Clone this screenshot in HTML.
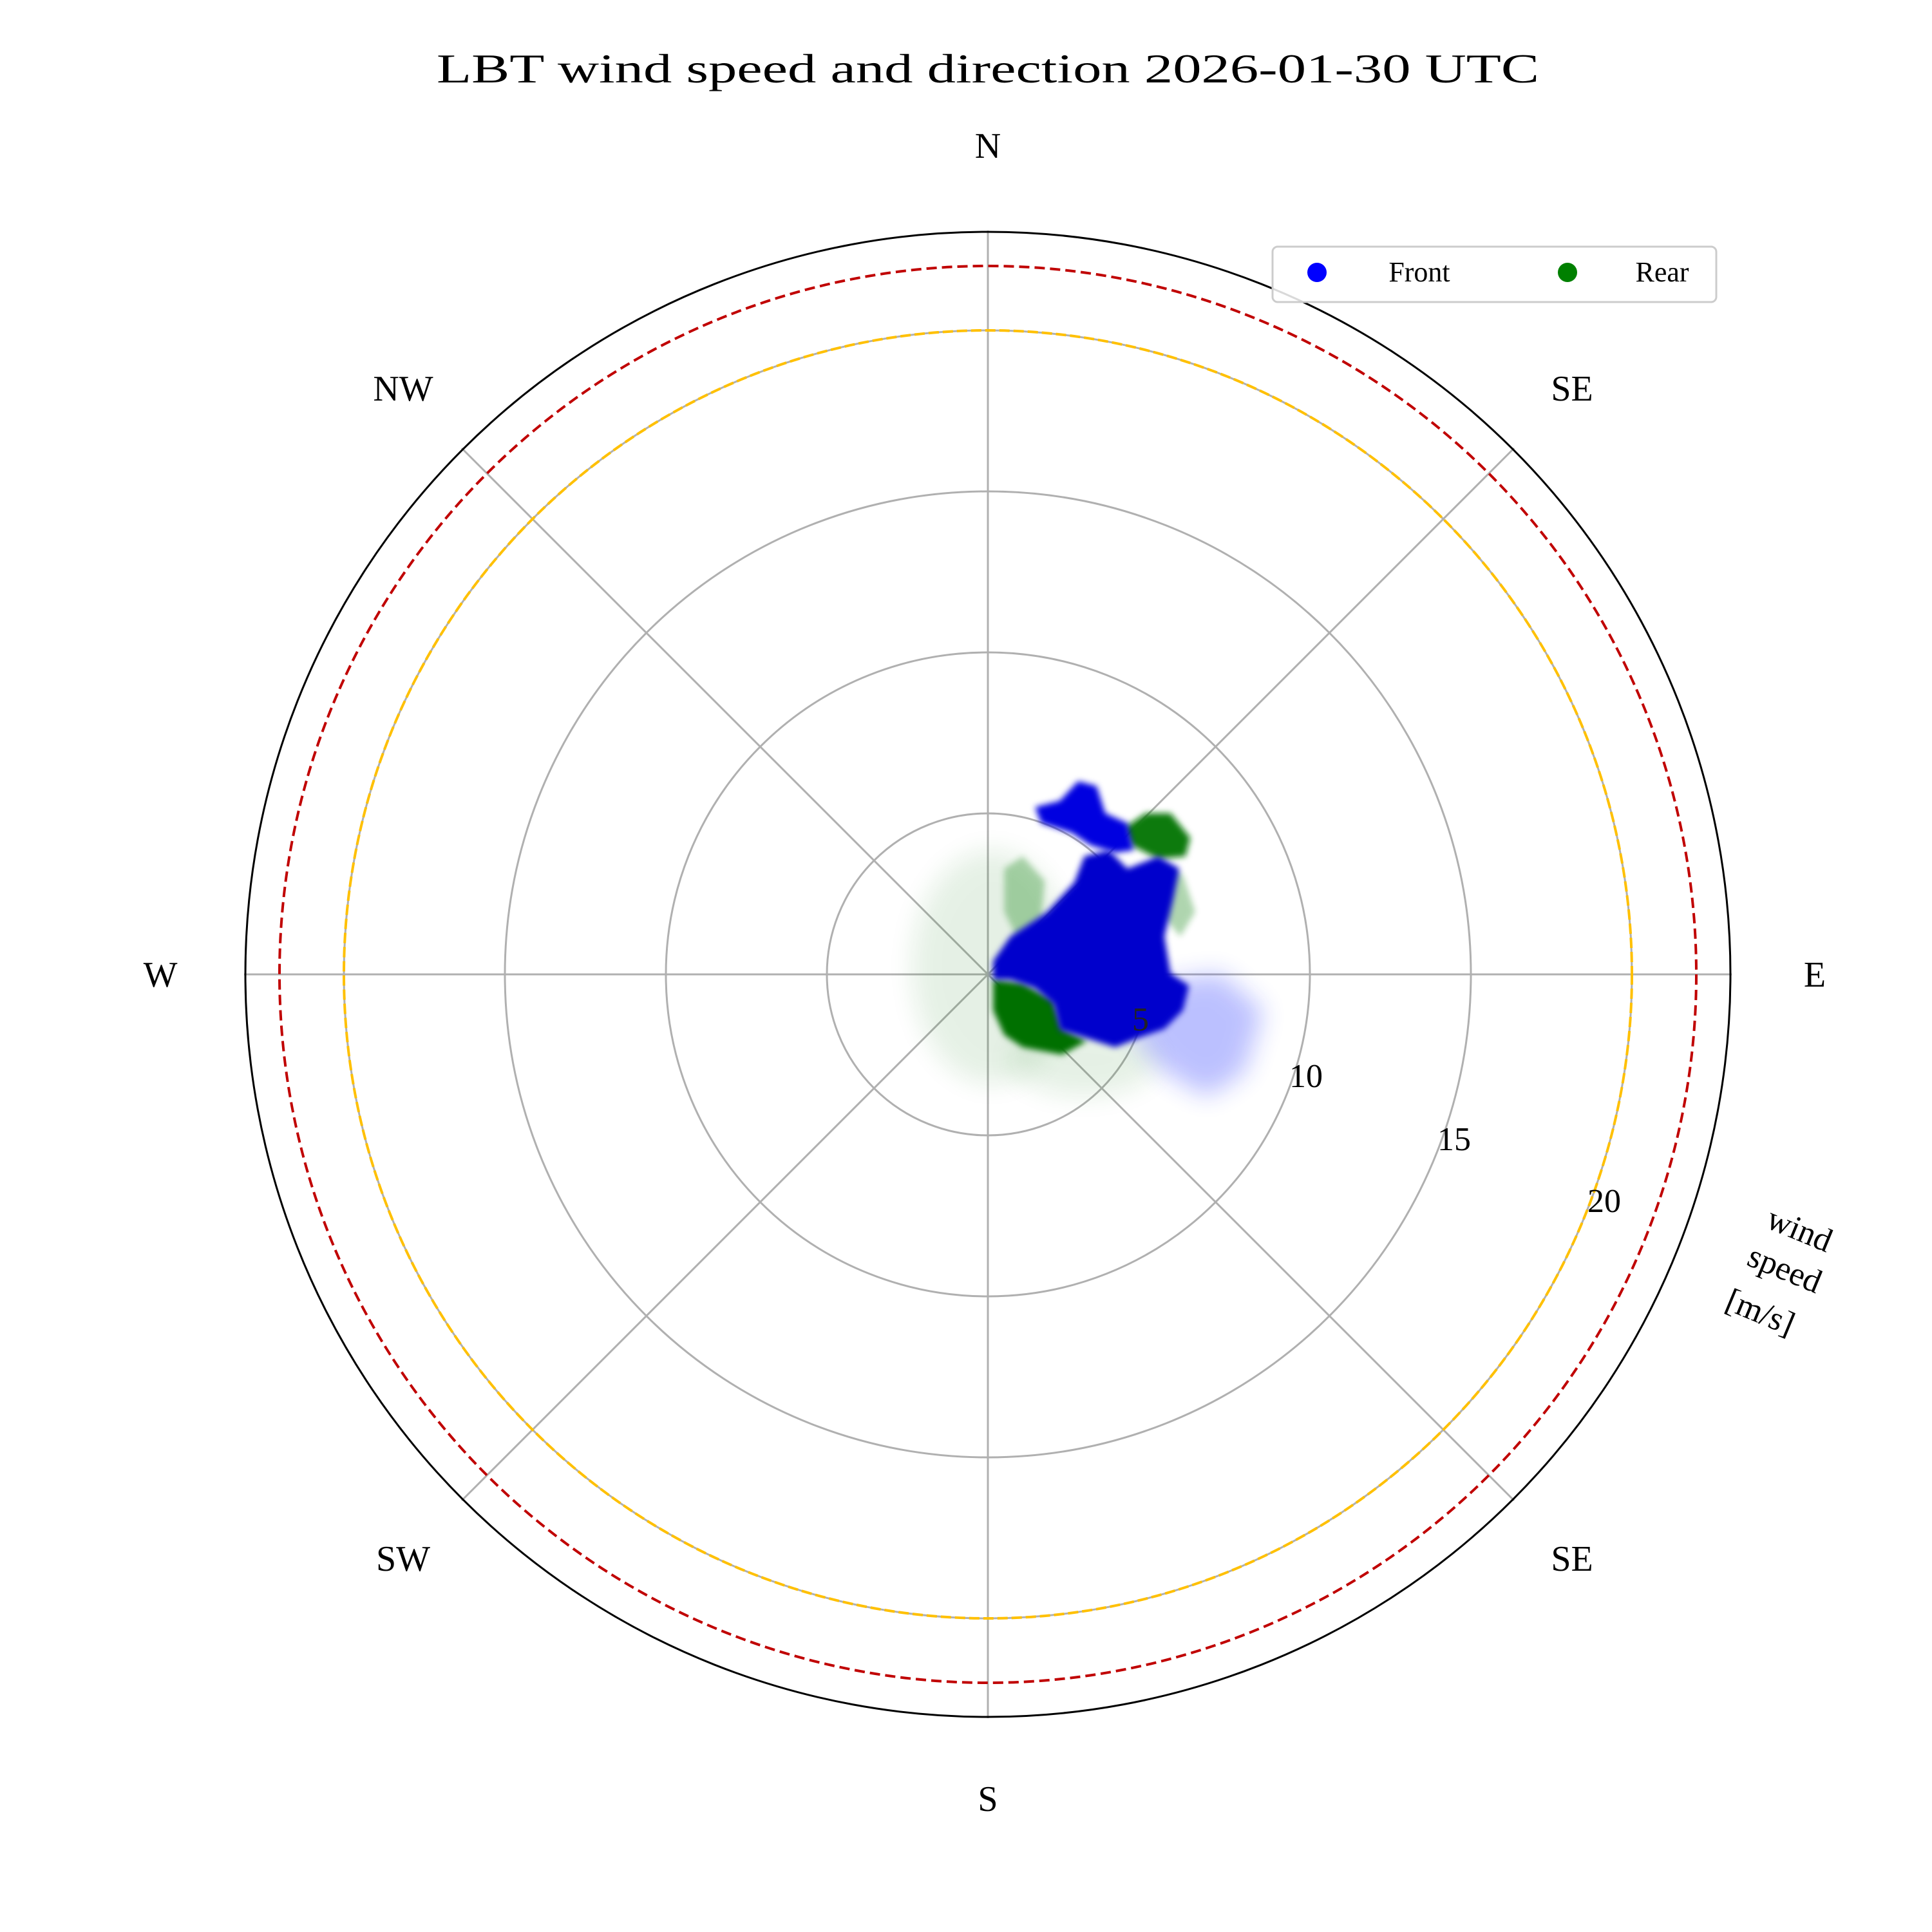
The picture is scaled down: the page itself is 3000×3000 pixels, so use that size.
<!DOCTYPE html>
<html><head><meta charset="utf-8"><style>html,body{margin:0;padding:0;background:#fff}svg{display:block}</style></head>
<body>
<svg width="3000" height="3000" viewBox="0 0 3000 3000" xmlns="http://www.w3.org/2000/svg" font-family="Liberation Serif, DejaVu Serif, serif">
<defs>
<filter id="b1" x="-20%" y="-20%" width="140%" height="140%"><feGaussianBlur stdDeviation="2.5"/></filter>
<filter id="b2" x="-50%" y="-50%" width="200%" height="200%"><feGaussianBlur stdDeviation="10"/></filter>
</defs>
<rect width="3000" height="3000" fill="#fff"/>
<text x="1534" y="128" font-size="64" text-anchor="middle" textLength="1712" lengthAdjust="spacingAndGlyphs">LBT wind speed and direction 2026-01-30 UTC</text>
<g fill="none" stroke="#b0b0b0" stroke-width="3">
<circle cx="1534" cy="1513" r="250"/><circle cx="1534" cy="1513" r="500"/><circle cx="1534" cy="1513" r="750"/><circle cx="1534" cy="1513" r="1000"/>
<line x1="1534" y1="358" x2="1534" y2="2668"/><line x1="379" y1="1513" x2="2689" y2="1513"/>
<line x1="717" y1="696" x2="2351" y2="2330"/><line x1="717" y1="2330" x2="2351" y2="696"/>
</g>
<g transform="scale(1.9133)">
<ellipse cx="805" cy="785" rx="65" ry="95" fill="#0a7a0a" opacity="0.10" filter="url(#b2)"/>
<ellipse cx="880" cy="860" rx="60" ry="30" fill="#0a7a0a" opacity="0.10" filter="url(#b2)"/>
<polygon points="930,800 990,790 1025,820 1010,870 980,890 945,870 920,840" fill="#2030ff" opacity="0.3" filter="url(#b2)"/>
<polygon points="935,700 960,710 970,740 958,760 945,745" fill="#1a8a1a" opacity="0.35" filter="url(#b1)"/>
<polygon points="815,705 830,695 848,715 845,745 825,760 815,740" fill="#1a8a1a" opacity="0.35" filter="url(#b1)"/>
<polygon points="806,795 830,798 855,812 862,835 882,845 862,856 830,850 815,840 806,820" fill="#007000" filter="url(#b1)"/>
<polygon points="912,672 930,660 950,660 966,680 962,695 940,697 918,686" fill="#107a10" filter="url(#b1)"/>
<polygon points="806,780 820,760 850,740 872,716 880,695 900,690 915,705 940,695 957,705 952,730 945,760 950,790 965,800 960,820 945,835 925,842 905,850 880,842 860,836 855,815 840,802 820,795 806,795" fill="#0000cc" filter="url(#b1)"/>
<polygon points="840,655 860,650 875,634 890,638 897,660 915,668 920,690 905,692 885,686 870,676 845,668" fill="#0000e0" filter="url(#b1)"/>
</g>
<circle cx="1534" cy="1513" r="1000" fill="none" stroke="#ffc000" stroke-width="4" stroke-dasharray="16,6"/>
<circle cx="1534" cy="1513" r="1100" fill="none" stroke="#c00000" stroke-width="4" stroke-dasharray="16,8"/>
<circle cx="1534" cy="1513" r="1153" fill="none" stroke="#000" stroke-width="3"/>
<g font-size="56" text-anchor="middle">
<text x="1534" y="245">N</text><text x="2818" y="1532">E</text><text x="249" y="1532">W</text><text x="1534" y="2812">S</text>
<text x="626" y="622">NW</text><text x="2441" y="622">SE</text><text x="626" y="2439">SW</text><text x="2441" y="2439">SE</text>
</g>
<g font-size="52" text-anchor="middle">
<text x="1771" y="1600" fill="#222">5</text>
<text x="2028" y="1688">10</text><text x="2258" y="1786">15</text><text x="2491" y="1882">20</text>
<text transform="translate(2788,1925) rotate(22.5)">wind</text>
<text transform="translate(2765,1986) rotate(22.5)">speed</text>
<text transform="translate(2727,2053) rotate(22.5)">[m/s]</text>
</g>
<rect x="1976" y="383" width="689" height="86" rx="8" fill="#fff" fill-opacity="0.85" stroke="#cccccc" stroke-width="3"/>
<circle cx="2045" cy="423" r="15" fill="#0000ff"/><circle cx="2434" cy="423" r="15" fill="#008000"/>
<g font-size="44" text-anchor="middle"><text x="2204" y="437">Front</text><text x="2581" y="437">Rear</text></g>
</svg>
</body></html>
